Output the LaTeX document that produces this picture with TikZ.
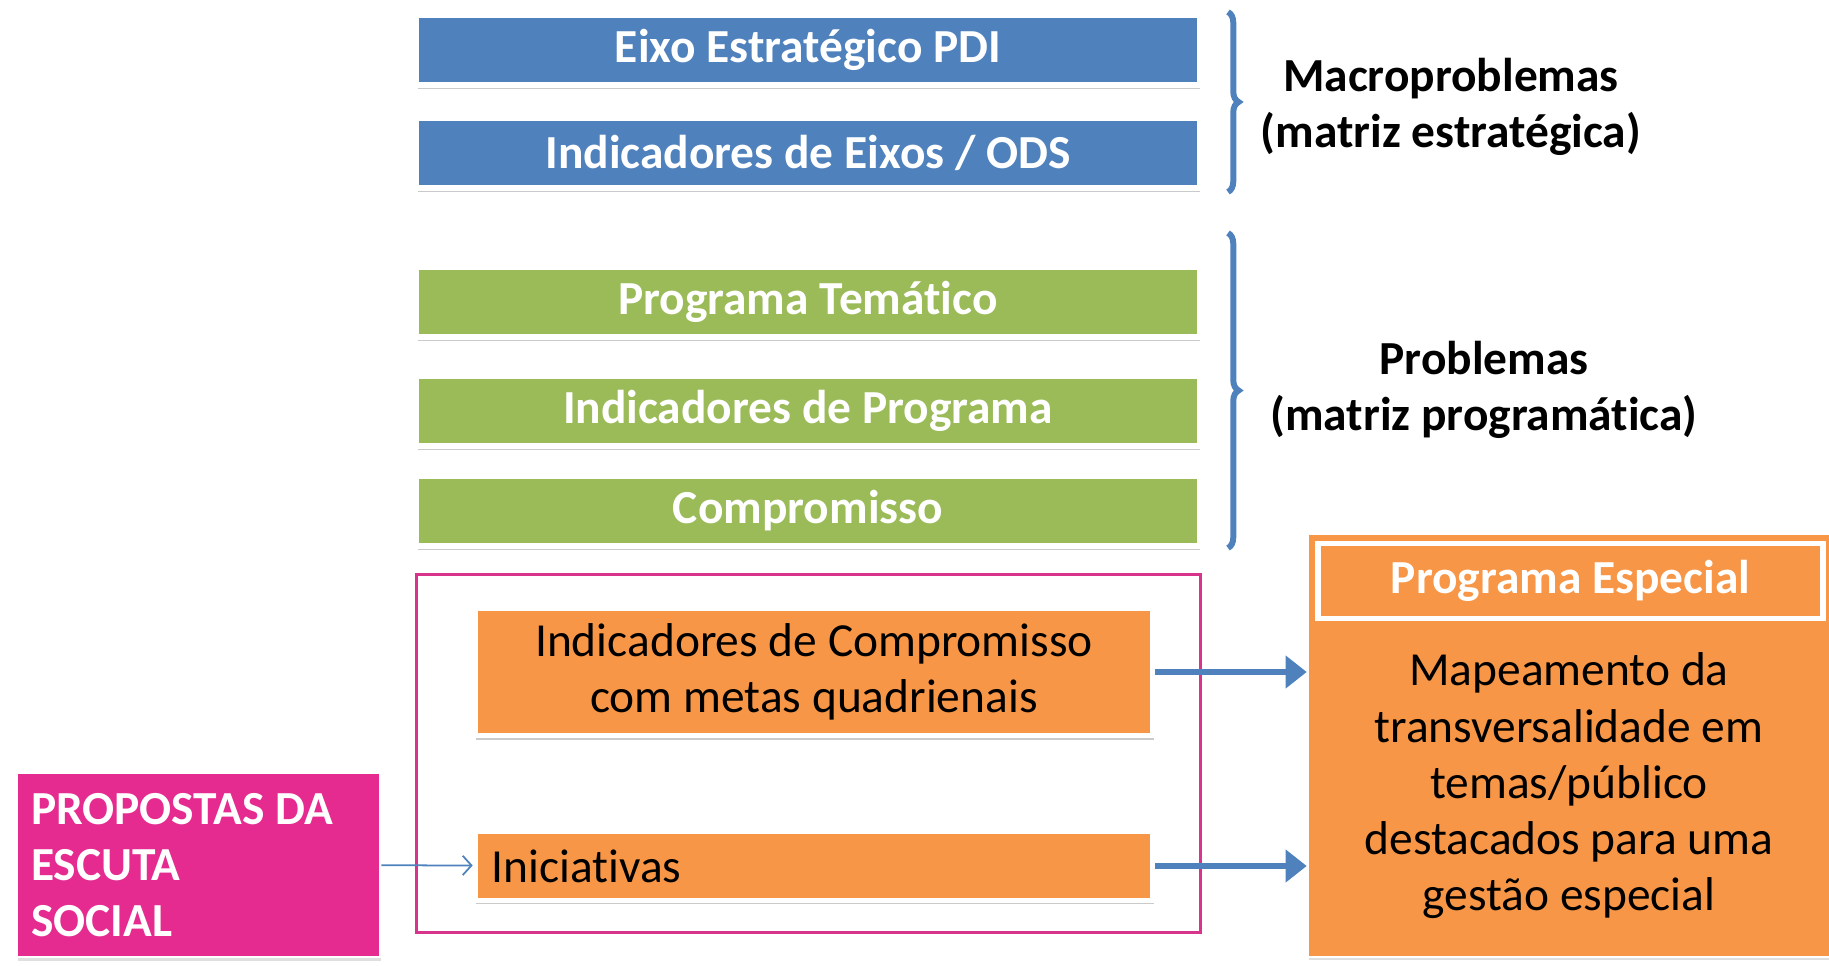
\documentclass[tikz,border=0pt]{standalone}
\usepackage{fontspec}
\setmainfont{Carlito}[Ligatures=NoCommon]
\usetikzlibrary{positioning,arrows.meta,shadows,decorations.pathreplacing}
\definecolor{eixoblue}{HTML}{4F81BD}
\definecolor{proggreen}{HTML}{9BBB59}
\definecolor{comporange}{HTML}{F79646}
\definecolor{escutapink}{HTML}{E52B8F}
\definecolor{framepink}{HTML}{D9348C}
\tikzset{
	barra/.style={draw=white, line width=3pt, minimum width=15.65cm, minimum height=1.4cm, text=white,
		font=\fontsize{27}{32}\selectfont\bfseries,
		drop shadow={shadow xshift=0.6pt, shadow yshift=-2.2pt, opacity=0.35, fill=black!60}},
	eixo/.style={barra, fill=eixoblue},
	prog/.style={barra, fill=proggreen},
	comp/.style={barra, fill=comporange, text=black, font=\fontsize{27}{32}\selectfont, minimum width=13.55cm, align=center},
	matriz/.style={font=\fontsize{27}{32}\selectfont\bfseries, align=center},
	seta/.style={draw=eixoblue, line width=3.4pt, -{Triangle[length=12pt,width=18pt]}},
	fina/.style={draw=eixoblue, line width=1pt, -{Straight Barb[length=5pt,width=11pt]}},
	chave/.style={draw=eixoblue, line width=3.4pt, decorate, decoration={brace, amplitude=6pt}}
}
\begin{document}
\begin{tikzpicture}[x=0.02cm, y=-0.02cm]
		\useasboundingbox (0,0) rectangle (1829,966);

		\node[eixo] (pdi) at (808,50) {Eixo Estratégico PDI};
		\node[eixo] (ods) at (808,153) {Indicadores de Eixos / ODS};

		\node[prog] (tem) at (808,302) {Programa Temático};
		\node[prog] (indprog) at (808,411) {Indicadores de Programa};
		\node[prog] (compr) at (808,511) {Compromisso};

		\coordinate (macro-top) at (1228,12);
		\coordinate (macro-bot) at (1228,192);
		\draw[chave] (macro-top) -- (macro-bot);
		\node[matriz] (macro) at (1451,107) {Macroproblemas\\(matriz estratégica)};

		\coordinate (probl-top) at (1228,233);
		\coordinate (probl-bot) at (1228,548);
		\draw[chave] (probl-top) -- (probl-bot);
		\node[matriz] (probl) at (1484,390) {Problemas\\(matriz programática)};

		\node[draw=framepink, line width=1.7pt, minimum width=15.7cm, minimum height=7.18cm] (acao) at (808.5,753.5) {};
		\node[comp, minimum height=2.55cm] (indcomp) at (814,672) {Indicadores de Compromisso\\com metas quadrienais};
		\node[comp, align=flush left, text width=12.9cm, minimum height=1.38cm] (inic) at (814,866) {Iniciativas};

		\node[draw=white, line width=1.5pt, fill=escutapink, text=white, font=\fontsize{27}{32}\selectfont\bfseries,
			align=flush left, text width=6.7cm, inner xsep=0.28cm, minimum height=3.68cm,
			drop shadow={shadow xshift=0.5pt, shadow yshift=-2pt, opacity=0.25}] (escuta) at (198.5,865) {PROPOSTAS DA\\ESCUTA\\SOCIAL};
		\draw[fina] (escuta) -- (inic);

		\node[draw=white, line width=1.5pt, fill=comporange, minimum width=10.54cm, minimum height=8.46cm,
			drop shadow={shadow xshift=0.5pt, shadow yshift=-2pt, opacity=0.25}] (esp) at (1571.5,745.5) {};
		\node[draw=white, line width=3.4pt, fill=comporange, text=white, font=\fontsize{27}{32}\selectfont\bfseries,
			minimum width=10.1cm, minimum height=1.5cm] (espcab) at (1570.5,581) {Programa Especial};
		\node[font=\fontsize{27}{32}\selectfont, align=center] (mapa) at (1569,786) {Mapeamento da\\transversalidade em\\temas/público\\destacados para uma\\gestão especial};

		\draw[seta] (indcomp) -- (indcomp -| esp.west);
		\draw[seta] (inic) -- (inic -| esp.west);
	\end{tikzpicture}
\end{document}
